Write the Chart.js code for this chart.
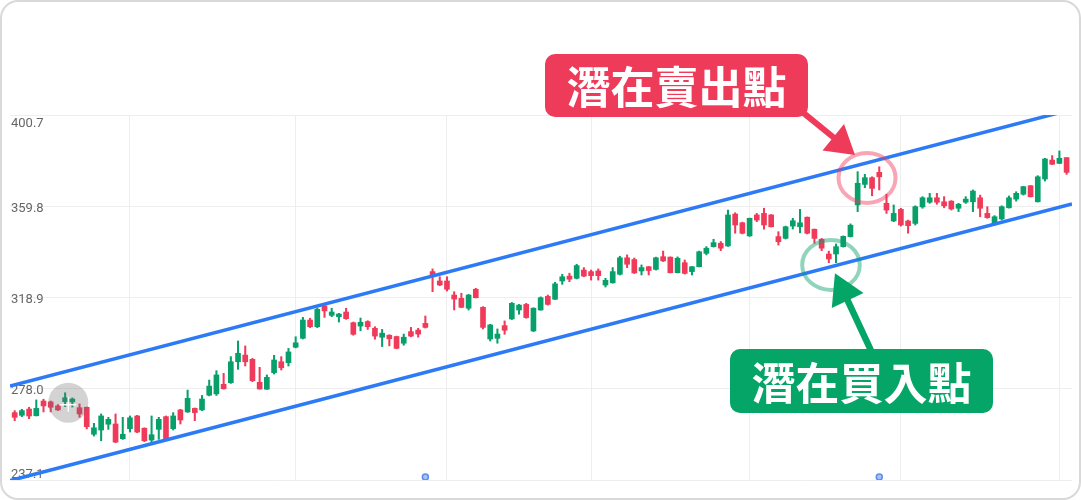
<!DOCTYPE html>
<html>
<head>
<meta charset="utf-8">
<script src="https://cdn.jsdelivr.net/npm/chart.js@4.4.1/dist/chart.umd.min.js"></script>
<style>
  html, body { margin: 0; padding: 0; background: #fff; }
  #wrap { position: relative; width: 1081px; height: 500px; overflow: hidden; }
  #card { position: absolute; left: 0; top: 0; width: 1081px; height: 500px; box-sizing: border-box;
          border: 2px solid #d9d9d9; border-radius: 18px; background: #fff; }
  canvas { position: absolute; left: 0; top: 0; }
  .tag { position: absolute; width: 263px; height: 63px; border-radius: 10px; color: #fff;
         font-family: "Noto Sans CJK TC", "Noto Sans CJK SC", sans-serif; font-weight: 700;
         font-size: 44px; line-height: 63px; text-align: center; }
  #sell { left: 545px; top: 54px; background: #ef3b5a; }
  #buy { left: 730px; top: 349px; height: 64px; line-height: 64px; background: #05a467; }
</style>
</head>
<body>
<div id="wrap">
  <div id="card"></div>
  <canvas id="c" width="1081" height="500"></canvas>
  <div class="tag" id="sell">潛在賣出點</div>
  <div class="tag" id="buy">潛在買入點</div>
</div>
<script>
// ---- data ----
const opens = [267.3,266.1,268.9,265.9,272.5,272.1,270.3,272.2,272.1,269.5,
  269.7,257.6,259.5,262.1,262.2,255.6,260.1,265.8,260.3,255.0,
  259.8,265.5,260.1,268.5,267.6,269.2,268.5,275.1,275.7,280.0,
  280.7,290.1,293.1,291.2,280.9,277.8,285.2,290.1,289.7,296.6,
  300.6,308.8,305.8,315.1,310.9,310.3,312.4,307.6,306.1,308.1,
  305.1,301.1,302.0,301.4,298.4,303.6,304.3,307.3,330.5,326.3,
  326.3,320.0,318.5,314.1,322.6,314.5,300.3,300.6,306.3,309.3,
  313.3,315.8,303.9,313.3,319.4,318.1,326.3,328.5,327.5,331.2,
  330.5,330.8,324.5,325.5,329.3,336.7,335.9,330.8,332.7,331.5,
  337.2,337.0,330.0,334.5,330.5,332.7,338.7,341.7,343.2,342.0,
  356.3,352.4,346.5,355.9,356.6,355.9,346.2,345.4,350.9,350.6,
  354.9,349.5,345.0,338.4,338.4,341.7,346.2,360.4,369.6,372.6,
  375.0,361.1,353.2,358.4,353.2,352.1,359.5,361.6,363.6,361.8,
  362.1,358.9,361.6,361.8,363.6,356.6,351.7,354.1,359.1,363.0,
  365.2,369.0,361.8,372.0,380.5,379.0,381.6];
const highs = [268.2,268.8,269.7,273.0,273.3,272.5,270.9,276.2,273.9,271.2,
  269.8,262.5,266.7,265.2,266.7,265.2,265.8,266.1,260.5,265.8,
  265.2,265.8,267.3,268.8,277.4,269.4,275.0,281.9,286.1,284.9,
  292.4,299.4,297.2,291.6,287.6,284.2,293.0,292.4,296.1,301.3,
  310.0,309.6,314.1,315.5,314.1,311.8,314.1,307.9,309.7,308.5,
  305.8,304.6,302.2,301.6,302.5,305.5,305.1,310.6,331.7,328.2,
  328.2,321.5,320.8,320.3,323.0,314.8,306.9,304.8,308.4,316.7,
  315.8,316.3,314.3,319.2,320.0,325.7,329.3,329.8,333.8,332.3,
  331.2,331.7,327.5,332.3,337.4,338.0,336.6,333.5,332.8,337.0,
  339.7,337.1,337.1,335.7,332.8,339.7,341.7,345.0,344.0,358.1,
  356.9,352.7,354.5,356.6,358.9,356.1,348.4,350.9,354.4,358.4,
  355.0,349.6,345.4,339.7,342.9,346.5,351.9,375.3,374.1,373.0,
  377.5,365.2,360.4,358.9,353.6,360.0,364.1,365.6,365.6,364.1,
  362.3,361.1,364.1,367.1,364.8,359.6,355.6,360.0,364.4,366.3,
  368.7,369.1,373.5,381.3,382.5,384.6,381.6];
const lows = [263.7,265.5,264.6,265.8,267.6,267.6,268.2,270.0,269.8,265.2,
  260.0,256.8,254.7,259.8,253.8,255.3,258.6,258.3,254.3,253.6,
  255.3,254.8,259.5,262.2,267.4,263.7,268.2,274.8,275.0,277.8,
  280.4,286.7,288.2,281.2,277.8,277.7,284.6,286.4,288.2,296.3,
  300.3,305.4,305.4,310.0,310.3,307.9,309.1,302.0,304.0,304.6,
  300.2,296.9,297.2,295.9,297.5,301.3,301.1,305.2,321.5,324.2,
  321.8,313.3,314.3,313.3,318.7,304.8,299.4,298.4,302.4,309.0,
  311.4,309.6,303.6,313.2,315.5,318.0,324.8,326.0,327.2,328.2,
  326.7,326.7,323.6,325.3,329.0,332.3,329.7,329.0,329.0,331.2,
  335.0,329.9,329.9,329.4,329.0,332.6,338.0,341.5,339.9,341.8,
  347.7,347.4,346.3,352.9,349.5,350.5,342.4,345.1,349.6,347.9,
  347.4,343.2,339.9,334.5,334.5,341.5,346.0,357.4,368.1,364.5,
  367.1,356.6,352.9,350.9,347.7,351.4,358.9,361.1,360.7,359.1,
  358.1,357.4,361.1,357.4,355.1,354.4,351.4,353.6,359.0,362.1,
  364.8,363.9,361.7,371.1,378.5,378.9,374.1];
const closes = [265.2,268.2,265.8,269.2,270.3,269.7,268.5,274.0,273.4,266.7,
  261.0,260.5,265.8,264.3,254.1,257.6,265.0,258.6,254.7,257.4,
  264.3,255.0,265.8,264.0,273.7,267.3,273.4,279.2,284.2,278.0,
  290.1,293.9,290.1,281.6,277.9,283.1,290.9,287.4,294.5,298.6,
  308.8,305.8,313.6,312.9,312.4,311.5,309.4,302.4,307.8,305.8,
  301.6,302.9,300.4,296.1,301.1,301.6,302.5,305.5,329.0,324.5,
  322.6,318.2,314.5,320.0,318.8,305.5,306.6,302.5,304.2,316.3,
  315.5,309.9,314.1,318.8,315.8,325.0,328.2,327.1,333.2,328.5,
  328.7,328.7,326.6,330.5,336.7,333.8,329.9,332.3,331.0,336.7,
  335.3,330.0,336.5,329.7,332.7,339.4,341.0,343.5,341.0,355.9,
  351.4,347.7,354.4,353.6,351.4,350.6,343.9,350.6,353.3,352.4,
  347.7,345.4,341.0,336.2,341.7,346.3,351.3,370.1,372.6,367.8,
  373.0,358.1,356.6,351.4,351.1,359.6,363.6,363.6,361.6,360.0,
  358.6,360.7,363.0,366.6,358.9,354.7,355.1,359.6,363.6,365.6,
  368.6,364.1,373.0,381.0,378.6,381.3,375.0];
const candleIndex = opens.map((_, i) => i);          // trading-day position
const monthGridIdx = [16, 39, 60, 80, 102, 123, 145]; // vertical grid (month starts)
const yTicks = [237.1, 278.0, 318.9, 359.8, 400.7];
const upperChannel = [{x: -0.65, y: 279.2}, {x: 146.75, y: 403.2}];
const lowerChannel = [{x: -0.65, y: 236.8}, {x: 146.75, y: 360.8}];
const eventMarkerIdx = [57, 120];
const eventMarkerVal = 238.4;

// ---- styling ----
const UP = '#08a06a', DOWN = '#f03a5a', BLUE = '#2d7af6';
const colorFor = (ctx) => closes[ctx.dataIndex] >= opens[ctx.dataIndex] ? UP : DOWN;

const bodies = candleIndex.map(i => ({x: i, y: [opens[i], closes[i]]}));
const wicks = candleIndex.map(i => ({x: i, y: [lows[i], highs[i]]}));
const markers = eventMarkerIdx.map(i => ({x: i, y: eventMarkerVal}));

// annotation anchors in data space
const notes = {
  cursor: {x: 7.44, y: 271.75},
  sellCircle: {x: 118.3, y: 372.5},
  buyCircle: {x: 113.3, y: 333.5},
  sellArrow: {from: {x: 109.0, y: 402.9}, to: {x: 116.63, y: 382.8}},
  buyArrow: {from: {x: 118.94, y: 294.5}, to: {x: 113.85, y: 329.75}}
};

const yLabelPlugin = {
  id: 'yLabels',
  beforeDatasetsDraw(chart) {
    const {ctx, chartArea, scales: {y}} = chart;
    ctx.save();
    ctx.font = '13px Roboto, "Liberation Sans", sans-serif';
    ctx.fillStyle = '#666666';
    ctx.textAlign = 'left';
    ctx.textBaseline = 'middle';
    yTicks.forEach(v => {
      let py = y.getPixelForValue(v) + 2;
      py = Math.max(chartArea.top + 9, Math.min(chartArea.bottom - 5, py));
      ctx.fillText(v.toFixed(1), chartArea.left + 1, py);
    });
    ctx.restore();
  }
};

function drawArrow(ctx, x1, y1, x2, y2, color, shaft, headLen, headHalf) {
  const a = Math.atan2(y2 - y1, x2 - x1);
  const c = Math.cos(a), s = Math.sin(a);
  const bx = x2 - headLen * c, by = y2 - headLen * s;
  ctx.strokeStyle = color; ctx.lineWidth = shaft; ctx.lineCap = 'butt';
  ctx.beginPath(); ctx.moveTo(x1, y1); ctx.lineTo(bx + 2 * c, by + 2 * s); ctx.stroke();
  ctx.fillStyle = color;
  ctx.beginPath();
  ctx.moveTo(x2, y2);
  ctx.lineTo(bx - headHalf * s, by + headHalf * c);
  ctx.lineTo(bx + headHalf * s, by - headHalf * c);
  ctx.closePath(); ctx.fill();
}

const annotationPlugin = {
  id: 'notes',
  afterDatasetsDraw(chart) {
    const {ctx, scales: {x, y}} = chart;
    const P = (p) => [x.getPixelForValue(p.x), y.getPixelForValue(p.y)];
    ctx.save();
    // cursor highlight
    const [cx, cy] = P(notes.cursor);
    ctx.fillStyle = 'rgba(110,110,110,0.3)';
    ctx.beginPath(); ctx.arc(cx, cy, 20, 0, Math.PI * 2); ctx.fill();
    ctx.strokeStyle = 'rgba(255,255,255,0.95)'; ctx.lineWidth = 1.5;
    ctx.beginPath();
    ctx.moveTo(cx - 8, cy + 2); ctx.lineTo(cx + 8, cy + 2);
    ctx.moveTo(cx, cy - 6); ctx.lineTo(cx, cy + 9);
    ctx.stroke();
    // circles
    ctx.lineWidth = 4;
    let [ex, ey] = P(notes.sellCircle);
    ctx.strokeStyle = 'rgba(240,58,90,0.45)';
    ctx.beginPath(); ctx.ellipse(ex, ey, 28.5, 25, 0, 0, Math.PI * 2); ctx.stroke();
    [ex, ey] = P(notes.buyCircle);
    ctx.strokeStyle = 'rgba(8,160,106,0.45)';
    ctx.beginPath(); ctx.ellipse(ex, ey, 28.8, 25, 0, 0, Math.PI * 2); ctx.stroke();
    // arrows
    let [a1, b1] = P(notes.sellArrow.from), [a2, b2] = P(notes.sellArrow.to);
    drawArrow(ctx, a1, b1, a2, b2, '#ef3b5a', 6, 28, 17);
    [a1, b1] = P(notes.buyArrow.from); [a2, b2] = P(notes.buyArrow.to);
    drawArrow(ctx, a1, b1, a2, b2, '#05a467', 6.5, 30, 17.5);
    ctx.restore();
  }
};

new Chart(document.getElementById('c'), {
  type: 'bar',
  data: {
    datasets: [
      {type: 'line', data: upperChannel, borderColor: BLUE, borderWidth: 3.5, pointRadius: 0, order: 0},
      {type: 'line', data: lowerChannel, borderColor: BLUE, borderWidth: 3.5, pointRadius: 0, order: 0},
      {type: 'scatter', data: markers, pointRadius: 3, pointBackgroundColor: '#a9c2f8',
       pointBorderColor: '#5b8def', pointBorderWidth: 1.5, order: 0},
      {type: 'bar', data: bodies, backgroundColor: colorFor, barThickness: 5, grouped: false,
       borderWidth: 0, order: 1},
      {type: 'bar', data: wicks, backgroundColor: colorFor, barThickness: 1.4, grouped: false,
       borderWidth: 0, order: 2}
    ]
  },
  options: {
    responsive: false,
    animation: false,
    events: [],
    layout: {padding: {left: 10, top: 115, right: 9, bottom: 20}},
    plugins: {legend: {display: false}, tooltip: {enabled: false}},
    scales: {
      x: {
        type: 'linear', min: -0.65, max: 146.75, offset: false,
        grid: {color: '#eeeeee', lineWidth: 1, drawTicks: false, offset: false},
        border: {display: false},
        ticks: {display: false},
        afterBuildTicks: (s) => { s.ticks = monthGridIdx.map(v => ({value: v})); },
        afterFit: (s) => { s.height = 0; }
      },
      y: {
        type: 'linear', min: 237.1, max: 400.7,
        grid: {color: '#eeeeee', lineWidth: 1, drawTicks: false},
        border: {display: false},
        ticks: {display: false},
        afterBuildTicks: (s) => { s.ticks = yTicks.map(v => ({value: v})); },
        afterFit: (s) => { s.width = 0; }
      }
    }
  },
  plugins: [yLabelPlugin, annotationPlugin]
});
</script>
</body>
</html>
